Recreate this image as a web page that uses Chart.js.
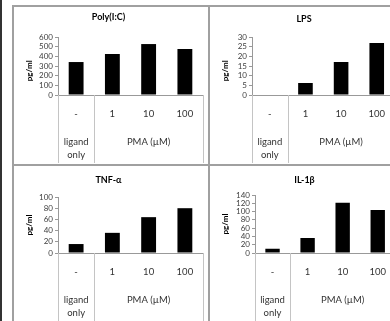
<!DOCTYPE html>
<html lang="en">
<head>
  <meta charset="UTF-8" />
  <title>Cytokine release after PMA</title>
  <script src="https://cdn.jsdelivr.net/npm/chart.js"></script>
  <style>
    body { margin: 0; width: 390px; height: 321px; overflow: hidden; position: relative; background: #fff; }
    .line { position: absolute; background: #a0a0a0; }
    .panel { position: absolute; }
  </style>
</head>
<body>
  <div class="line" style="left:0;top:0;width:2px;height:321px;background:#333"></div>
  <div class="line" style="left:12px;top:5px;width:2px;height:316px"></div>
  <div class="line" style="left:12px;top:5px;width:378px;height:2px"></div>
  <div class="line" style="left:208px;top:5px;width:2px;height:316px"></div>
  <div class="line" style="left:12px;top:164px;width:378px;height:2px"></div>

  <div class="panel" style="left:14px;top:7px;width:194px;height:157px"><canvas id="polyChart"></canvas></div>
  <div class="panel" style="left:210px;top:7px;width:188px;height:157px"><canvas id="lpsChart"></canvas></div>
  <div class="panel" style="left:14px;top:166px;width:194px;height:160px"><canvas id="tnfChart"></canvas></div>
  <div class="panel" style="left:210px;top:166px;width:189px;height:160px"><canvas id="il1bChart"></canvas></div>

  <script>
    // x axis: treatment per bar, then the group row underneath
    const categories = ['-', '1', '10', '100'];
    const groupLabels = [['ligand', 'only'], ['PMA (µM)']];
    const groupStart = [0, 1];
    const groupEnd = [0, 3];

    // pg/ml
    const polyICValues = [341, 424, 527, 476];
    const lpsValues = [0.2, 6.2, 17.1, 26.9];
    const tnfValues = [16, 36, 64, 80];
    const il1bValues = [10, 36, 121, 104];

    const font = 'Lato, "Open Sans", sans-serif';

    // Excel-style multi level category lines and group captions
    const groupPlugin = {
      id: 'groupRow',
      afterDraw(chart) {
        const x = chart.scales.x;
        const area = chart.chartArea;
        const ctx = chart.ctx;
        const half = (x.getPixelForValue(1) - x.getPixelForValue(0)) / 2;
        const bottom = area.bottom;

        ctx.save();
        ctx.strokeStyle = '#c4c4c4';
        ctx.lineWidth = 1;
        const edges = groupStart.map(i => x.getPixelForValue(i) - half);
        edges.push(x.getPixelForValue(groupEnd[groupEnd.length - 1]) + half);
        edges.forEach(px => {
          ctx.beginPath();
          ctx.moveTo(Math.round(px) + 0.5, bottom);
          ctx.lineTo(Math.round(px) + 0.5, bottom + 68);
          ctx.stroke();
        });

        ctx.fillStyle = '#333';
        ctx.font = '9.5px ' + font;
        ctx.textAlign = 'center';
        ctx.textBaseline = 'middle';
        groupLabels.forEach((lines, g) => {
          const cx = (x.getPixelForValue(groupStart[g]) + x.getPixelForValue(groupEnd[g])) / 2;
          lines.forEach((t, k) => ctx.fillText(t, cx, bottom + 47 + k * 13));
        });
        ctx.restore();
      }
    };

    function makeChart(id, title, values, yMax, yStep, g) {
      return new Chart(document.getElementById(id), {
        type: 'bar',
        data: {
          labels: categories,
          datasets: [{
            data: values,
            backgroundColor: '#000',
            barPercentage: 0.41,
            categoryPercentage: 1
          }]
        },
        options: {
          responsive: true,
          maintainAspectRatio: false,
          animation: false,
          layout: { padding: { left: 0, right: g.right, top: 0, bottom: 0 } },
          plugins: {
            legend: { display: false },
            tooltip: { enabled: false },
            title: {
              display: true,
              text: title,
              color: '#000',
              font: { family: font, size: 9, weight: 'bold' },
              padding: { top: g.titleY - 5.4, bottom: g.top - g.titleY - 5.4 }
            }
          },
          scales: {
            x: {
              grid: { display: false, drawTicks: false },
              border: { color: '#999' },
              ticks: { color: '#333', font: { family: font, size: 9.5 }, padding: 13 },
              afterFit: s => { s.height = g.xHeight; }
            },
            y: {
              min: 0,
              max: yMax,
              grid: { drawOnChartArea: false, tickLength: 3, color: '#999' },
              border: { color: '#999' },
              ticks: { stepSize: yStep, autoSkip: false, color: '#404040', padding: 2, font: { family: font, size: 8 } },
              title: {
                display: true,
                // trailing blanks push the caption a little below the middle, as in the source
                text: 'pg/ml' + ' '.repeat(g.titleShift),
                color: '#000',
                font: { family: font, size: 8, weight: 'bold' },
                padding: { top: 11, bottom: 0 }
              },
              afterFit: s => { s.width = g.yWidth; }
            }
          }
        },
        plugins: [groupPlugin]
      });
    }

    makeChart('polyChart', 'Poly(I:C)', polyICValues, 600, 100, { yWidth: 44, right: 5, top: 30, titleY: 10, xHeight: 69, titleShift: 5 });
    makeChart('lpsChart', 'LPS', lpsValues, 30, 5, { yWidth: 42, right: 0, top: 30, titleY: 12, xHeight: 69, titleShift: 5 });
    makeChart('tnfChart', 'TNF-α', tnfValues, 100, 20, { yWidth: 44, right: 5, top: 31, titleY: 14, xHeight: 73, titleShift: 0 });
    makeChart('il1bChart', 'IL-1β', il1bValues, 140, 20, { yWidth: 45, right: 0, top: 29, titleY: 14, xHeight: 73, titleShift: 0 });
  </script>
</body>
</html>
